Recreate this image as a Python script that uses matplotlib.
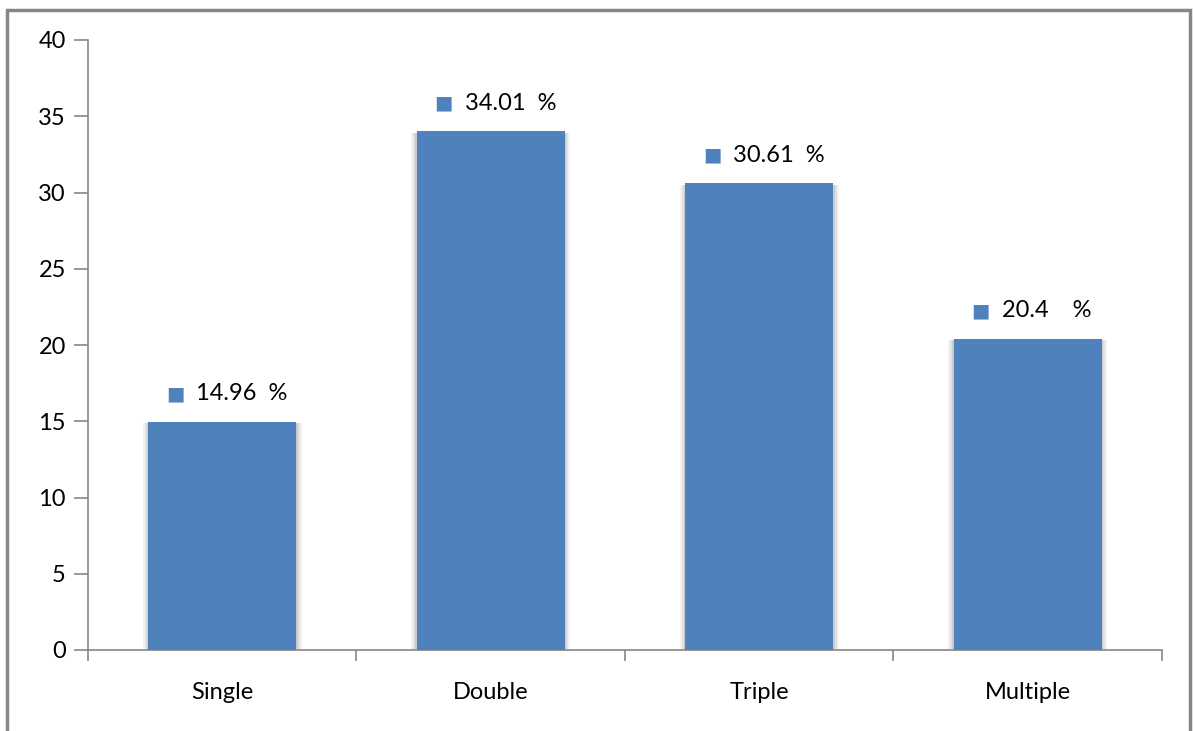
import matplotlib.pyplot as plt
import matplotlib.patheffects as pe
from matplotlib.patches import Rectangle

categories = ["Single", "Double", "Triple", "Multiple"]
values = [14.96, 34.01, 30.61, 20.4]
labels = ["14.96  %", "34.01  %", "30.61  %", "20.4    %"]

blue = "#4F81BD"
gray = "#868686"

plt.rcParams['font.family'] = ['Lato', 'DejaVu Sans']
fs = 17

fig = plt.figure(figsize=(11.95, 7.31), dpi=100)
# outer chart frame (bottom edge is cut off in the original)
fig.patches.append(Rectangle((7/1195, -0.05), (1190-7)/1195, 1.05 - 10/731,
                             transform=fig.transFigure, fill=False,
                             edgecolor=gray, linewidth=2.5))

ax = fig.add_axes([88/1195, 1-650/731, (1162-88)/1195, (650-40)/731])

x = list(range(len(categories)))
bars = ax.bar(x, values, width=0.55, color=blue, zorder=3)
# soft side shadow like the original
shadow = []
for off, a in [(4, 0.12), (2.5, 0.2), (1.2, 0.3)]:
    shadow.append(pe.SimplePatchShadow(offset=(off, -1), shadow_rgbFace="#999999", alpha=a))
    shadow.append(pe.SimplePatchShadow(offset=(-off, -1), shadow_rgbFace="#999999", alpha=a))
for b in bars:
    b.set_path_effects(shadow + [pe.Normal()])

for xi, v, lab in zip(x, values, labels):
    ax.annotate("\u25A0", xy=(xi, v), xytext=(-47, 28), textcoords="offset pixels",
                ha="center", va="center", color=blue, fontsize=14, family="DejaVu Sans")
    ax.annotate(lab, xy=(xi, v), xytext=(-26, 28), textcoords="offset pixels",
                ha="left", va="center", color="black", fontsize=fs)

ax.set_xlim(-0.5, len(categories) - 0.5)
ax.set_ylim(0, 40)
ax.set_yticks(range(0, 41, 5))

ax.set_xticks([i - 0.5 for i in range(len(categories) + 1)])
ax.set_xticklabels([])
ax.set_xticks(x, minor=True)
ax.set_xticklabels(categories, minor=True)

ax.tick_params(axis="x", which="major", direction="out", length=8, color=gray, width=1.2)
ax.tick_params(axis="x", which="minor", length=0, pad=23, labelsize=fs)
ax.tick_params(axis="y", direction="out", length=10, color=gray, width=1.2, pad=6, labelsize=fs)

for s in ["top", "right"]:
    ax.spines[s].set_visible(False)
for s in ["left", "bottom"]:
    ax.spines[s].set_color(gray)
    ax.spines[s].set_linewidth(1.2)

plt.savefig("out.png", dpi=100)
